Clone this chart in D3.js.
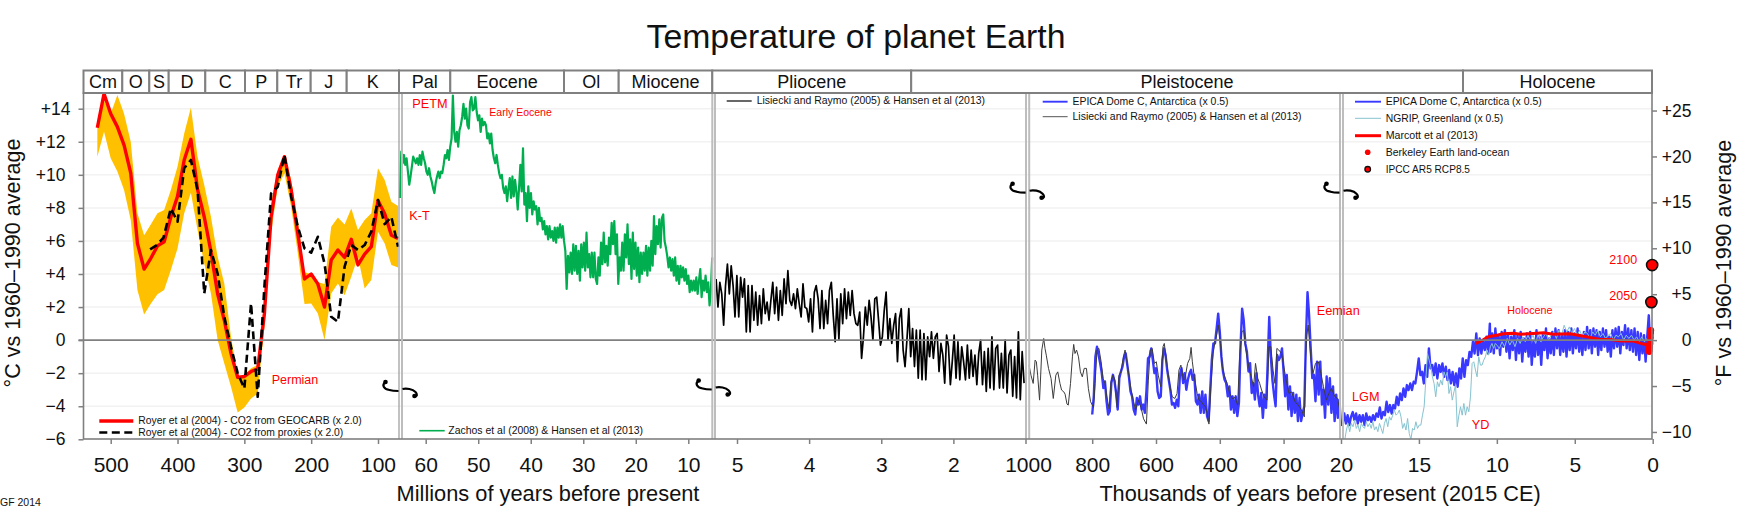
<!DOCTYPE html>
<html>
<head>
<meta charset="utf-8">
<script src="https://cdn.jsdelivr.net/npm/d3@7/dist/d3.min.js"></script>
<style>
html,body{margin:0;padding:0;background:#fff;overflow:hidden}
svg{display:block}
text{font-family:"Liberation Sans",Arial,sans-serif;fill:#111}
</style>
</head>
<body>
<script>
// ---------- Data ----------
const titleText = "Temperature of planet Earth";
const periods = ["Cm","O","S","D","C","P","Tr","J","K","Pal","Eocene","Ol","Miocene","Pliocene","Pleistocene","Holocene"];
const periodEdges = [83.5,122.3,149.3,168.7,205.3,245,277.3,310.7,346.7,399,450.3,564,618.7,712.3,911.2,1463,1652];

const royerAges = [520,510,500,490,480,470,460,450,440,430,420,410,400,390,380,370,360,350,340,330,320,310,300,290,280,270,260,250,240,230,220,210,200,190,180,170,160,150,140,130,120,110,100,90,80,70];
const geocarb = [12.85,14.9,13.7,12.9,11.8,10.1,5.85,4.3,4.95,5.7,5.95,7.45,8.7,10.9,12.15,9.1,7.45,5.35,2.8,1.2,-0.8,-2.25,-2.2,-1.9,-1.75,1.6,7.45,10,11.1,9.1,6.45,3.7,4,3.4,2,4.85,5.45,5,6.1,4.55,5.2,5.65,8.45,7.65,6.35,6.15];
const geocarbHigh = [12.9,14.5,13.7,14.83,13.7,12,7.67,6.35,7,7.67,7.87,9.08,10.5,12.5,14.08,11.1,9.38,7.46,5.04,3.43,0.2,-2.2,-2.1,-1.7,-1.5,2.4,8.27,10.3,11.2,9.7,7.26,4.1,4,3.5,3.4,6.86,7.42,7,7.97,6.66,7.26,7.67,10.4,9.68,8.37,8.11];
const geocarbLow = [11.1,12.6,11,10.2,9.08,7.26,3.03,1.55,2.2,2.78,3.03,4.24,5.55,7.67,8.92,6.66,4.64,2.82,0,-1.41,-2.82,-4.38,-4.07,-3.53,-3.23,0.8,6.46,9.28,10.1,8.07,5.25,2.18,2.22,1.61,0,2.82,3.43,2.72,3.83,5.04,3.13,3.63,6.56,5.85,4.54,4.4];
const proxyAges = [441,431,421,410,400,390,380,370,360,350,340,330,320,310,300,290,280,270,260,250,240,230,220,210,200,190,180,170,160,150,140,130,120,110,100,90,80,70];
const proxies = [5.49,5.75,6.2,7.97,7.16,10.4,10.9,9.08,2.82,5.45,4.03,1.41,-0.4,-2,-2.93,2.22,-3.43,3.23,8.88,9.28,11.2,8.67,6.86,5.55,5.29,6.25,4.64,1.41,1.11,4.44,5.75,5.45,5.75,6.56,8.47,7.02,7.46,5.65];

const zachos = [8.6,11.4,10.7,11.2,10.6,11,10.2,9.4,9.9,10.5,11.1,10.9,10.7,11,10.6,11.2,10.6,11.4,11,10.7,10.2,10,10.4,9.9,9.6,9.2,8.9,9.5,9.9,10.2,9.8,10.2,10.1,10.6,11.2,11,11.5,10.9,11.7,12.2,14.8,12.6,12,12.6,11.7,12.7,13,13.5,14.3,13.4,14,13,12.8,14.4,14.7,13.9,14,14.7,13.8,13.3,13.6,12.6,13.4,13,13.2,13,12.2,12.5,11.9,12.5,11.5,11,10.7,11.2,10.6,10.1,9.8,10,9.2,8.9,9.3,8.4,9.2,9.8,8.6,9.9,8.7,9.7,9,7.9,9.2,10.6,9,11.6,8.2,8.9,7.2,9.3,8,8.9,7.6,8.4,7.9,8.1,7,8,7.2,7.4,6.7,7.2,6.4,6.9,6.1,6.9,6.2,6.6,6,6.8,5.9,6.8,6.2,
7,6.2,6.9,6,5.4,3.1,5.1,4.1,5.3,4,5.8,4.2,5.7,4,5.4,3.6,5.8,4.4,5.9,4.2,6.5,4.4,5.2,3.8,5.3,3.8,5.3,3.7,3.4,5,3.9,5.9,4.6,6.5,4.7,5.7,4.5,6.2,5.2,7.1,5.8,7.2,5.2,6.4,3.4,5,4.2,5.9,4.2,6.4,5,7,4.6,6.1,3.7,6.5,4.3,5.9,3.9,5.6,3.5,5.3,4,5.3,4.2,5.7,3.9,5.6,4.2,6,4.5,7.5,5.2,6.9,5.8,7.3,5.6,7.4,7.6,6,5.6,5.1,4.4,5,4.2,4.9,3.9,5,3.6,4.5,3.4,4.5,3.8,4.4,3.6,4.3,3.4,3.9,2.9,3.6,3,3.6,3,3.8,2.8,3.6,4.3,2.6,3.6,3,3.9,2.9,3.5,2.1,3,5];

const pliocene = [3.7,2,3.5,2.8,0.9,3.3,4.6,2.8,4.5,3.3,1.4,3.9,1.4,3.8,2.6,3.7,0.5,3.3,0.5,3.3,1.2,2.9,0.9,2.7,1,3.1,1.6,2.3,1.2,2.4,3.5,1.6,3.2,1.2,3,1.5,3.7,2.2,4.2,2.4,2.1,2.8,1.9,3.1,2.2,1.4,3.4,2,1.9,1.1,2.5,0.5,2.9,3.3,2.5,0.7,3,0.7,2.4,1,3,3.5,1.5,-0.1,2.5,0.05,2.8,1,3.1,1.3,2.9,1.5,3,1.6,1,0.9,1.7,-1.1,0.2,2,0.9,2.4,1.4,0,2.5,
2.6,1.2,-0.3,0.2,1.8,2.9,0,1.3,-0.2,0.9,1.6,-1.3,1.3,1.9,-0.6,-1.6,0,1.9,-1,0.7,-1.6,0.6,-2.3,0.6,-2.4,0.4,-2.4,0.2,-1,0.5,-1.1,0.2,0.4,-1.9,-0.2,-0.9,-2.6,0.3,-0.4,-2.7,-1.3,0.3,-2.3,-0.1,-2.4,-0.4,-1.3,-2.4,-0.3,-2.3,-0.6,-2.2,-0.9,-2.7,-0.8,0,-2.7,-0.7,-3.1,-0.5,-2.9,0.2,-3,-0.5,-0.3,-2.9,-0.8,-2.9,0,-3.2,-0.9,-0.6,-3.4,-1,-3.5,0.5,-3.6,-0.7,-2.6];

const lrAges = [998,992,985,979,975,971,965,958,952,948,944,937,929,922,914,908,901,896,889,885,879,875,868,862,858,854,849,843,837,831,825,818,812,805,796,791,785,779,772,766,760,754,747,741,735,729,722,716,710,701,697,691,685,678,670,664,655,647,639,630,624,618,612,605,599,593,585,578,574,568,562,555,549,541,534,528,522,514,509,501,494,490,486,480,471,465,457,451,444,438,434,428,421,415,409,405,398,392,386,377,369,361,352,344,338,331,325,319,313,306,300,294,288,281,275,269,261,252,246,240,233,227,221,215,206,200,192,183,175,164,154,144,135,131,127,123,114,108,100,91,83,75,66,58,50,39,31,22];
const lrTemps = [-1.51,-2.12,-2.62,-1.21,-1.31,-2.12,-3.63,-0.6,0.1,-0.5,-0.91,-1.71,-2.32,-3.53,-2.12,-1.92,-2.62,-3.02,-3.13,-3.27,-3.87,-3.93,-2.62,-1.01,-0.26,-0.81,-0.6,-1.01,-1.92,-2.22,-1.71,-1.71,-2.92,-3.73,-4.07,-2.62,-0.6,-0.5,-1.31,-2.32,-2.62,-3.43,-4.15,-2.52,-2.12,-2.42,-4.07,-2.12,-1.92,-0.91,-0.6,-1.31,-2.12,-3.02,-3.73,-4.23,-3.63,-4.07,-4.76,-5.08,-2.42,-0.6,-0.5,-1.41,-1.31,-2.12,-2.82,-0.4,-0.2,-1.11,-2.02,-2.92,-3.43,-3.53,-3.23,-1.81,-1.51,-2.42,-2.32,-1.41,-1.11,-0.44,-1.31,-2.22,-3.23,-3.63,-3.73,-3.93,-4.03,-4.64,-5.08,-2.82,-0.81,-0.1,0.4,0.91,-0.2,-1.61,-2.12,-2.62,-3.23,-3.53,-3.47,-3.93,-1.01,0.5,0.6,-0.5,-1.21,-1.91,-2.32,-2.82,-1.41,-2.32,-2.62,-3.02,-3.43,-3.63,-0.4,-0.4,-1.81,-2.62,-0.5,-0.6,-0.81,-1.51,-2.42,-3.23,-3.13,-3.73,-3.93,-4.23,-4.64,-1.01,0.3,0.91,-1.21,-2.02,-1.41,-1.31,-2.02,-2.82,-3.63,-3.23,-2.92,-3.43,-3.53,-4.44];

const epicaLong = [-4.5,-3.4,-1,-0.4,-0.9,-1.4,-2,-2.9,-2.5,-3.7,-4.5,-4.3,-2.6,-2.1,-2.5,-3.2,-4.2,-2.3,-1.9,-1.6,-1,-0.8,-1.5,-2.2,-3.1,-3.4,-4.2,-4.5,-3.5,-3.9,-3.4,-4.2,-3.9,-4.4,-3.1,-1.1,-1,-0.5,-1.2,-2,-1.7,-3.1,-3.5,-3.4,-1.2,-0.5,-0.9,-1.8,-2.4,-3,-3.9,-3.8,-4.1,-3.6,-4,-2.1,-1.7,-2.6,-2,-3,-2.4,-2,-1.8,-2.4,-2.1,-3.7,-3.9,-3.3,-4.4,-3.1,-4.4,-3.3,-4.6,-4.9,-3,-1.2,-0.2,-0.2,0.7,1.6,0.5,-1,-1.9,-2.4,-2.6,-3.4,-2.8,-4.2,-3.4,-4.4,-3.4,-4.6,-3.8,-0.4,1.9,1.2,-0.2,-0.7,-1.9,-1.4,-3.2,-2.6,-3.6,-2,-3.3,-4,-3.2,-4.7,-3.3,-4.1,-1.5,1.4,-1,-2.4,-3.3,-4,-0.9,-1.2,-1,-0.5,-1.9,-3.4,-2.1,-4.2,-2.8,-4.6,-3.2,-4.4,-3.3,-4.9,-3.5,-4.9,-4.4,-4,0,2.9,1.5,-0.5,-2.3,-2.1,-3.7,-1.3,-3.3,-1.3,-3.9,-3,-4.7,-2.2,-3.9,-2.3,-4.4,-2.8,-4.9,-3.3,-4.7,-3.6,-5.2];

const epicaGlacial = [-5.04,-4.44,-5.04,-4.54,-5.14,-4.64,-4.35,-4.84,-4.44,-5.04,-4.54,-4.94,-4.54,-5.14,-4.44,-4.84,-4.64,-4.94,-4.54,-4.84,-4.44,-4.64,-4.07,-4.74,-4.35,-4.54,-3.73,-4.35,-3.93,-4.44,-3.93,-4.13,-3.43,-3.93,-3.23,-3.63,-2.92,-3.43,-2.72,-3.02,-2.62,-3.02,-2.52,-2.62,-1.92,-1.11,-2.12,-1.92,-2.62,-1.51,-2.22,-0.5,-1.71,-1.51,-2.12,-1.41,-2.32,-1.51,-1.92,-1.41,-2.22,-1.61,-2.42,-1.81,-2.62,-1.92,-2.72,-2.02,-2.82,-1.71,-2.32,-1.11,-2.22,-1.21,-1.51,-0.71,-1.01,-0.1,-0.81,0.4,-0.91,0.1,-0.81,0,-0.6,0.2,-0.81,1];
const epicaHolocene = [-0.7,0.4,-0.8,0.7,-0.5,0.3,-0.9,0.5,-0.4,0.6,-0.7,0.4,-1.1,0.2,-0.6,0.6,-1.2,0.3,-0.8,0.5,-1.3,0.1,-0.7,0.4,-1,0.5,-1.5,-0.1,-1,0.6,-0.9,0.2,-1.5,0.3,-0.6,0.7,-1.1,0.1,-0.8,0.5,-0.9,0.7,-0.5,0.6,-0.9,0.3,-0.7,0.6,-1,0.5,-0.6,0.7,-0.8,0.4,-0.5,0.7,-0.7,0.3,-0.9,0.5,-0.6,0.8,-0.5,0.6,-0.8,0.7,-0.4,0.6,-0.9,0.5,-0.6,0.7,-0.4,0.6,-0.7,0.2,-1,0.6,-0.5,0.7,-0.4,0.8,-0.8,0.5,-0.3,0.9,-0.5,0.7,-0.6,0.6,-0.7,0.7,-0.9,0.5,-1.2,0.4,-0.8,0.3,-1.3,0.2,1.5,-0.5];

const ngripGlacial = [-6.05,-5.44,-5.04,-5.54,-5.04,-5.24,-4.84,-5.34,-5.14,-5.54,-5.04,-5.24,-5.34,-4.94,-5.24,-5.04,-5.34,-4.94,-5.44,-5.24,-5.54,-5.04,-5.34,-5.65,-5.04,-4.74,-5.24,-4.64,-4.84,-4.54,-4.23,-4.54,-4.44,-4.23,-4.64,-5.34,-5.04,-5.44,-4.74,-5.65,-6.01,-5.34,-5.44,-4.94,-5.34,-5.14,-5.14,-4.54,-4.03,-2.42,-0.81,-1.21,-1.61,-2.22,-2.62,-3.43,-2.52,-2.82,-2.42,-2.72,-1.92,-2.22,-1.92,-3.23,-2.82,-3.63,-3.13,-2.72,-5.24,-4.54,-4.03,-4.54,-3.83,-4.54,-4.03,-4.33,-3.43,-1.41,-1.31,-1.81,-2.22,-1.01,-1.51,-1.51,-1.21,-1.01,-0.6,-0.91,-0.4,-0.2,-0.5,-0.2];
const ngripHolocene = [-0.3,-0.5,-0.1,-0.4,0.1,-0.3,0,-0.4,0.1,-0.2,0.2,-0.1,0.3,0,0.3,-0.2,0.4,-0.1,0.2,0.4,0,0.3,0.5,0.1,0.6,0.3,0.9,0.5,0.8,0.4,0.7,0.3,0.6,0.2,0.5,0.4,0.1,0.5,0.3,0.6,0.2,0.4,0.1,0.3,0.4,0,0.3,0.2,0.4,0,0.3,0.1,0.3,0,0.2,-0.1,0.2,-0.1,0.1,-0.2];

const marcottAges = [11.36,10.98,10.55,10,9.58,8.94,8.5,7.66,7,6.37,5.3,4.45,3.38,2.74,2,1.24,0.6,0.28];
const marcottTemps = [-0.2,-0.04,0.2,0.3,0.38,0.42,0.36,0.4,0.44,0.36,0.38,0.24,0.04,0.04,-0.06,-0.06,-0.24,-0.3];
const berkeleyAges = [0.25,0.24,0.23,0.22,0.21,0.2,0.19,0.18,0.17,0.16,0.15,0.14,0.13,0.12,0.11];
const berkeleyTemps = [-0.6,-0.4,-0.7,-0.5,-0.3,-0.6,-0.2,-0.4,-0.1,-0.2,0.1,0.2,0.4,0.5,0.6];
const ipccAges = [0.085,0.035];
const ipccTemps = [2.3,4.54];
const ipccLabels = ["2050","2100"];

const leftTicks = [-6,-4,-2,0,2,4,6,8,10,12,14];
const rightTicks = [-10,-5,0,5,10,15,20,25];
const ticksP1 = [500,400,300,200,100];
const ticksP2 = [60,50,40,30,20,10];
const ticksP3 = [5,4,3,2,1];
const ticksP4 = [800,600,400,200,20];
const ticksP5 = [15,10,5,0];

// ---------- Layout ----------
const W = 1741, H = 509;
const plotL = 83.5, plotR = 1652, plotT = 93, plotB = 439, headT = 70.5;
const GREY = "#808080", BREAK = "#BDBDBD", RED = "#FF0000", ORANGE = "#FFC000",
      GREEN = "#00AE4F", BLUE = "#3838FF", CYAN = "#86C3D0";

const svg = d3.select("body").append("svg").attr("width", W).attr("height", H);

const y = d3.scaleLinear().domain([-6,14]).range([439.3,108.7]);
const yF = d3.scaleLinear().domain([-10.8,25.2]).range([439.3,108.7]);
const x1 = d3.scaleLinear().domain([500,100]).range([110.7,378]);
const x2 = d3.scaleLinear().domain([60,10]).range([425.7,688.3]);
const x3 = d3.scaleLinear().domain([5,1]).range([737,1025.5]);
const x4 = d3.scaleLinear().domain([800,20]).range([1092.2,1341]);
const x5 = d3.scaleLinear().domain([20,0]).range([1341,1652.7]);

const spread = (vals, a, b) => vals.map((v,i) => [a + (b-a)*i/(vals.length-1), v]);
const zip = (a, b) => a.map((v,i) => [v, b[i]]);

svg.append("defs").append("clipPath").attr("id","plot").append("rect")
  .attr("x",plotL).attr("y",plotT).attr("width",plotR-plotL+8).attr("height",plotB-plotT);

// title
svg.append("text").attr("x",856).attr("y",48).attr("text-anchor","middle")
  .attr("font-size",33.8).text(titleText);

// gridlines
svg.append("g").selectAll("line").data(leftTicks.filter(d => d !== 0 && d !== -6)).join("line")
  .attr("x1",plotL).attr("x2",plotR).attr("y1",d=>y(d)).attr("y2",d=>y(d))
  .attr("stroke","#F2F2F2").attr("stroke-width",1.5);

// ---------- Marks ----------
const marks = svg.append("g").attr("clip-path","url(#plot)");
const drawLine = (pts, sc, color, width, dash) => marks.append("path")
  .datum(pts).attr("fill","none").attr("stroke",color).attr("stroke-width",width)
  .attr("stroke-linejoin","round")
  .attr("stroke-dasharray",dash||null)
  .attr("d", d3.line().x(d=>sc(d[0])).y(d=>y(d[1])));

marks.append("path").datum(royerAges.map((a,i)=>[a,geocarbLow[i],geocarbHigh[i]]))
  .attr("fill",ORANGE)
  .attr("d", d3.area().x(d=>x1(d[0])).y0(d=>y(d[1])).y1(d=>y(d[2])));

// zero line
svg.append("line").attr("x1",78.5).attr("x2",plotR).attr("y1",y(0)).attr("y2",y(0))
  .attr("stroke",GREY).attr("stroke-width",1.7);

drawLine(zip(royerAges,geocarb), x1, RED, 3.4);
drawLine(zip(proxyAges,proxies), x1, "#000", 2.6, "8,4.5");
drawLine(spread(zachos,64.9,5.45), x2, GREEN, 2.2);
drawLine(spread(pliocene,5.29,1.02), x3, "#000", 1.7);
drawLine(spread(epicaLong,800,20), x4, BLUE, 2.4);
drawLine(zip(lrAges,lrTemps), x4, "#3c3c3c", 1);
drawLine(spread(epicaGlacial,19.9,10.45).concat(spread(epicaHolocene,10.4,0.15)), x5, BLUE, 2.4);
drawLine(spread(ngripGlacial,19.76,10.1).concat(spread(ngripHolocene,10,0.2)), x5, CYAN, 1);
drawLine(zip(marcottAges,marcottTemps), x5, RED, 3);

marks.selectAll("circle.b").data(zip(berkeleyAges,berkeleyTemps)).join("circle").attr("class","b")
  .attr("cx",d=>x5(d[0])).attr("cy",d=>y(d[1])).attr("r",3.2).attr("fill",RED);

// ---------- Break bands ----------
[[399,402],[712.3,715],[1026,1029.2],[1340,1343]].forEach(([a,b],i) => {
  svg.append("line").attr("x1",a).attr("x2",a).attr("y1",plotT).attr("y2",plotB)
    .attr("stroke",i===0?"#999":BREAK).attr("stroke-width",i===0?1.2:2);
  svg.append("line").attr("x1",b).attr("x2",b).attr("y1",plotT).attr("y2",plotB)
    .attr("stroke",BREAK).attr("stroke-width",2);
});

// squiggle break marks
[[400.5,390],[713.7,388.5],[1027.6,191.7],[1341.5,191.7]].forEach(([cx,cy]) => {
  const g = svg.append("g").attr("transform",`translate(${cx},${cy})`);
  const p = d3.path();
  p.moveTo(-15,-8); p.bezierCurveTo(-19,-5,-17,-1,-11,0); p.bezierCurveTo(-8,1,-5,1,-2,1);
  p.moveTo(2,-1); p.bezierCurveTo(6,-2,12,-1,15,2); p.bezierCurveTo(17,4,17,7,14,6);
  g.append("path").attr("d",p.toString()).attr("fill","none").attr("stroke","#000").attr("stroke-width",2.2);
  g.append("circle").attr("cx",-15).attr("cy",-8).attr("r",2.3).attr("fill","#000");
  g.append("circle").attr("cx",14).attr("cy",6).attr("r",2.3).attr("fill","#000");
});

// ---------- Frame and header ----------
svg.append("rect").attr("x",plotL).attr("y",plotT).attr("width",plotR-plotL).attr("height",plotB-plotT)
  .attr("fill","none").attr("stroke",GREY).attr("stroke-width",1.6);
const hdr = svg.append("g");
hdr.selectAll("rect").data(periods).join("rect")
  .attr("x",(d,i)=>periodEdges[i]).attr("y",headT)
  .attr("width",(d,i)=>periodEdges[i+1]-periodEdges[i]).attr("height",plotT-headT)
  .attr("fill","#fff").attr("stroke",GREY).attr("stroke-width",2);
hdr.selectAll("text").data(periods).join("text")
  .attr("x",(d,i)=>(periodEdges[i]+periodEdges[i+1])/2).attr("y",88.3)
  .attr("text-anchor","middle").attr("font-size",18).text(d=>d);

// IPCC points on top of the frame
svg.selectAll("circle.i").data(zip(ipccAges,ipccTemps)).join("circle").attr("class","i")
  .attr("cx",d=>x5(d[0])).attr("cy",d=>y(d[1])).attr("r",5.6)
  .attr("fill",RED).attr("stroke","#111").attr("stroke-width",1.6);

// ---------- Axes ----------
const fmt = d => d === 0 ? "0" : (d > 0 ? "+" + d : "\u2212" + Math.abs(d));
const styleAxis = (g, size) => {
  g.select(".domain").remove();
  g.selectAll("line").attr("stroke",GREY).attr("stroke-width",1.5);
  g.selectAll("text").attr("font-size",size).attr("font-family","Liberation Sans").attr("fill","#111");
};
const gl = svg.append("g").attr("transform",`translate(${plotL},0)`)
  .call(d3.axisLeft(y).tickValues(leftTicks).tickFormat(fmt).tickSize(5).tickPadding(13));
styleAxis(gl,17.5);
gl.selectAll("text").filter(d=>d===14).attr("dx",5);

const gr = svg.append("g").attr("transform",`translate(${plotR},0)`)
  .call(d3.axisRight(yF).tickValues(rightTicks).tickFormat(fmt).tickSize(5).tickPadding(8));
styleAxis(gr,17.5);
gr.selectAll("text").attr("text-anchor","end").attr("x",39.5);

const bottom = (sc, vals, f) => {
  const g = svg.append("g").attr("transform",`translate(0,${plotB})`)
    .call(d3.axisBottom(sc).tickValues(vals).tickFormat(f||(d=>d)).tickSize(5).tickPadding(12));
  styleAxis(g,21);
  g.selectAll("text").attr("dy","0.78em");
  return g;
};
bottom(x1,ticksP1);
bottom(x2,ticksP2);
const g3 = bottom(x3,ticksP3,d=>d===1?"1000":d);
g3.selectAll("text").filter(d=>d===1).attr("dx",2.5);
bottom(x4,ticksP4);
bottom(x5,ticksP5);

// axis titles
svg.append("text").attr("x",548).attr("y",501).attr("text-anchor","middle").attr("font-size",21.8)
  .text("Millions of years before present");
svg.append("text").attr("x",1320).attr("y",501).attr("text-anchor","middle").attr("font-size",21.7)
  .text("Thousands of years before present (2015 CE)");
svg.append("text").attr("transform","translate(19.5,263) rotate(-90)").attr("text-anchor","middle")
  .attr("font-size",21.5).text("\u00B0C vs 1960\u20131990 average");
svg.append("text").attr("transform","translate(1730.5,263) rotate(-90)").attr("text-anchor","middle")
  .attr("font-size",21.5).text("\u00B0F vs 1960\u20131990 average");

// ---------- Annotations ----------
const notes = [
  ["PETM",412.3,108.3,12.7],["K-T",409.3,220,12.7],["Early Eocene",489.3,116,10.5],
  ["Permian",271.7,384,12.5],["Eemian",1316.7,315,12.7],["LGM",1352,400.7,12.7],
  ["YD",1471.7,429,12.7],["Holocene",1507.3,314,10.7],
  [ipccLabels[1],1609.3,264,12.5],[ipccLabels[0],1609.3,300,12.5]
];
svg.append("g").selectAll("text").data(notes).join("text")
  .attr("x",d=>d[1]).attr("y",d=>d[2]).attr("font-size",d=>d[3])
  .style("fill",RED).text(d=>d[0]);

svg.append("text").attr("x",0).attr("y",506).attr("font-size",10.5).text("GF 2014");

// ---------- Legends ----------
const legendLines = [
  [99.3,133.3,421,RED,3.4,null,138.3,361.7,"Royer et al (2004) - CO2 from GEOCARB (x 2.0)"],
  [99.3,133.3,432.5,"#000",2.6,"8,4.5",138.3,343.3,"Royer et al (2004) - CO2 from proxies (x 2.0)"],
  [419.3,444.7,430.7,GREEN,1.6,null,448.3,643,"Zachos et al (2008) & Hansen et al (2013)"],
  [726.7,751.7,101,"#000",1.2,null,756.7,985,"Lisiecki and Raymo (2005) & Hansen et al (2013)"],
  [1042.7,1067.6,101.7,BLUE,1.9,null,1072.5,1228.6,"EPICA Dome C, Antarctica (x 0.5)"],
  [1042.7,1067.6,116.7,"#555",1,null,1072.5,1301.6,"Lisiecki and Raymo (2005) & Hansen et al (2013)"],
  [1355,1381,101.7,BLUE,1.9,null,1385.7,1541.7,"EPICA Dome C, Antarctica (x 0.5)"],
  [1355,1381,118.3,CYAN,1,null,1385.7,1503.3,"NGRIP, Greenland (x 0.5)"],
  [1355,1381,135.7,RED,3,null,1385.7,1477.7,"Marcott et al (2013)"]
];
const leg = svg.append("g");
const legText = (tx, te, yy, label) => leg.append("text").attr("x",tx).attr("y",yy).attr("font-size",10.5)
  .attr("textLength",te-tx).attr("lengthAdjust","spacingAndGlyphs").text(label);
legendLines.forEach(([a,b,yy,c,w,dash,tx,te,label]) => {
  leg.append("line").attr("x1",a).attr("x2",b).attr("y1",yy).attr("y2",yy)
    .attr("stroke",c).attr("stroke-width",w).attr("stroke-dasharray",dash);
  legText(tx,te,yy+3.4,label);
});
leg.append("circle").attr("cx",1367.7).attr("cy",152.3).attr("r",2.8).attr("fill",RED);
legText(1385.7,1509.3,155.7,"Berkeley Earth land-ocean");
leg.append("circle").attr("cx",1367.7).attr("cy",169.3).attr("r",2.8).attr("fill",RED).attr("stroke","#111").attr("stroke-width",1.3);
legText(1385.7,1470,172.7,"IPCC AR5 RCP8.5");
</script>
</body>
</html>
